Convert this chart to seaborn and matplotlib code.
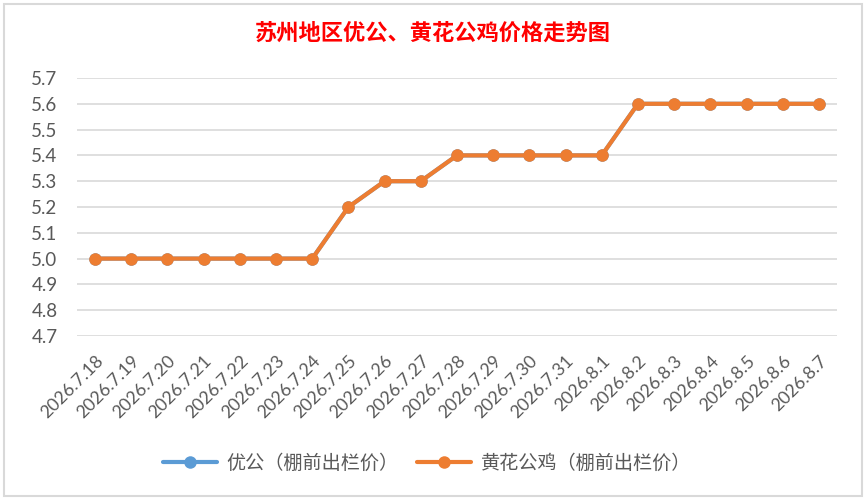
import matplotlib
matplotlib.use("Agg")
import matplotlib.pyplot as plt
import pandas as pd
import seaborn as sns
from matplotlib.lines import Line2D
from matplotlib.patches import Rectangle

# Suzhou broiler prices, shed-gate price
dates = ["2026.7.18", "2026.7.19", "2026.7.20", "2026.7.21", "2026.7.22", "2026.7.23",
         "2026.7.24", "2026.7.25", "2026.7.26", "2026.7.27", "2026.7.28", "2026.7.29",
         "2026.7.30", "2026.7.31", "2026.8.1", "2026.8.2", "2026.8.3", "2026.8.4",
         "2026.8.5", "2026.8.6", "2026.8.7"]
youGong = [5.0, 5.0, 5.0, 5.0, 5.0, 5.0, 5.0, 5.2, 5.3, 5.3, 5.4, 5.4,
           5.4, 5.4, 5.4, 5.6, 5.6, 5.6, 5.6, 5.6, 5.6]
huangHua = [5.0, 5.0, 5.0, 5.0, 5.0, 5.0, 5.0, 5.2, 5.3, 5.3, 5.4, 5.4,
            5.4, 5.4, 5.4, 5.6, 5.6, 5.6, 5.6, 5.6, 5.6]
seriesNames = ["优公（棚前出栏价）", "黄花公鸡（棚前出栏价）"]
colors = ["#5B9BD5", "#ED7D31"]
yTicks = [4.7, 4.8, 4.9, 5.0, 5.1, 5.2, 5.3, 5.4, 5.5, 5.6, 5.7]

df = pd.DataFrame({"date": dates * 2,
                   "price": youGong + huangHua,
                   "series": [seriesNames[0]] * len(dates) + [seriesNames[1]] * len(dates)})
df["x"] = list(range(len(dates))) * 2

sns.set_style("white")
plt.rcParams['font.family'] = ['Lato', 'Noto Sans CJK SC', 'DejaVu Sans']

fig = plt.figure(figsize=(8.66, 5.0), dpi=100)
ax = fig.add_axes([77 / 866, 1 - 336 / 500, (837 - 77) / 866, (336 - 78) / 500])

sns.lineplot(data=df, x="x", y="price", hue="series", palette=colors, marker="o",
             markersize=9, markeredgewidth=0, linewidth=3, sort=False, legend=False, ax=ax)

ax.set_xlim(-0.5, len(dates) - 0.5)
ax.set_ylim(4.7, 5.7)
ax.set_yticks(yTicks)
ax.set_yticklabels([f"{v:.1f}" for v in yTicks], fontsize=13.5, color="#595959")
ax.set_xticks(range(len(dates)))
ax.set_xticklabels(dates, rotation=45, ha="right", rotation_mode="anchor",
                   fontsize=12.8, color="#595959")
ax.tick_params(axis="y", length=0, pad=14)
ax.tick_params(axis="x", length=0, pad=12)
ax.yaxis.grid(True, color="#D9D9D9", linewidth=1.2)
ax.set_axisbelow(True)
for s in ax.spines.values():
    s.set_visible(False)
ax.set_xlabel("")
ax.set_ylabel("")

fig.text(0.5, 1 - 33 / 500, "苏州地区优公、黄花公鸡价格走势图", ha="center", va="center",
         color="red", fontsize=16, fontweight="bold", family=["Noto Sans CJK SC", "DejaVu Sans"])

handles = [Line2D([0], [0], color=c, linewidth=3, marker="o", markersize=9, markeredgewidth=0)
           for c in colors]
leg = fig.legend(handles, seriesNames, loc="center", bbox_to_anchor=(427 / 866, 1 - 463 / 500),
                 ncol=2, frameon=False, handlelength=2.8, columnspacing=1.0, handletextpad=0.5,
                 prop={"family": ["Noto Sans CJK SC", "DejaVu Sans"], "size": 13.8})
for t in leg.get_texts():
    t.set_color("#595959")

fig.patches.append(Rectangle((4 / 866, 4 / 500), 858 / 866, 492 / 500, transform=fig.transFigure,
                             fill=False, edgecolor="#D9D9D9", linewidth=1.5))

fig.savefig("out.png", dpi=100)
